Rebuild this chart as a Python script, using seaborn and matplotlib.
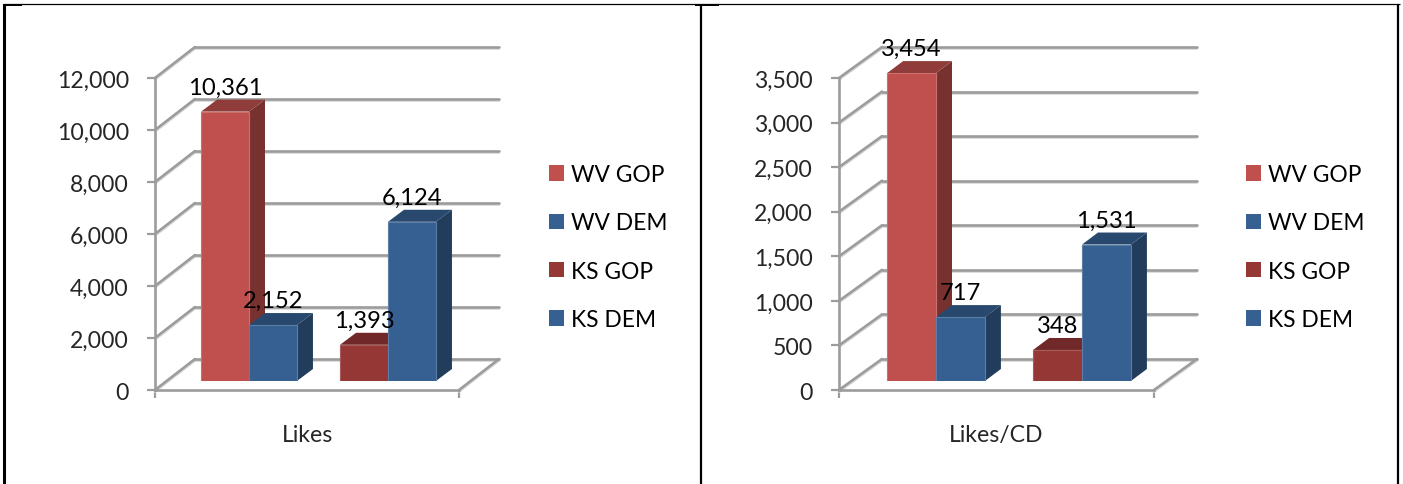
import numpy as np
import pandas as pd
import matplotlib
matplotlib.use("Agg")
import matplotlib.pyplot as plt
from matplotlib.lines import Line2D
from matplotlib.patches import Patch, Polygon
from matplotlib.ticker import StrMethodFormatter
from matplotlib.transforms import IdentityTransform
import seaborn as sns

states = ["WV", "WV", "KS", "KS"]
parties = ["GOP", "DEM", "GOP", "DEM"]
series_names = ["WV GOP", "WV DEM", "KS GOP", "KS DEM"]
series_colours = ["#C0504D", "#376092", "#953735", "#376092"]

likes = [10361, 2152, 1393, 6124]
likes_ticks = [0, 2000, 4000, 6000, 8000, 10000, 12000]
likes_per_cd = [3454, 717, 348, 1531]
likes_per_cd_ticks = [0, 500, 1000, 1500, 2000, 2500, 3000, 3500]

W, H = 1403, 485
DPI = 100
GRID = "#9C9C9C"
SHADOW = "#DADADA"
FS = 16.6

sns.set_theme(style="white")
plt.rcParams["font.family"] = ["Lato", "DejaVu Sans"]
plt.rcParams["text.color"] = "black"

fig = plt.figure(figsize=(W / DPI, H / DPI), dpi=DPI)


def px_axes(x0, x1, y_top, y_bottom):
    return fig.add_axes([x0 / W, 1 - y_bottom / H, (x1 - x0) / W, (y_bottom - y_top) / H])


def shade(colour, f):
    return tuple(c * f for c in matplotlib.colors.to_rgb(colour))


def lighten(colour, f):
    return tuple(c + (1 - c) * f for c in matplotlib.colors.to_rgb(colour))


def grey_line(ax, xs, ys):
    # xs, ys are display pixels, y going up
    shadow = Line2D(xs, np.array(ys) - 2, color=SHADOW, lw=1.3, transform=IdentityTransform(), clip_on=False, zorder=1)
    line = Line2D(xs, ys, color=GRID, lw=1.9, transform=IdentityTransform(), clip_on=False, zorder=2,
                  solid_capstyle="round")
    ax.add_line(shadow)
    ax.add_line(line)


def panel(values, ticks, title, x0, x1, y_top, y_bottom, centre, step, bar_w, depth, legend_x):
    # wall with the real y axis
    ax = px_axes(x0, x1, y_top, y_bottom)
    ax.set_ylim(ticks[0], ticks[-1])
    ax.set_xlim(0, 1)
    ax.patch.set_visible(False)
    sns.despine(ax=ax, top=True, right=True)
    for side in ["left", "bottom"]:
        ax.spines[side].set_color(GRID)
        ax.spines[side].set_linewidth(1.9)
    ax.set_yticks(ticks)
    ax.yaxis.set_major_formatter(StrMethodFormatter("{x:,.0f}"))
    ax.set_xticks([0, 1])
    ax.set_xticklabels(["", ""])
    ax.tick_params(axis="both", left=True, bottom=True, length=5.8, width=1.6, color=GRID)
    ax.tick_params(axis="y", labelsize=FS, pad=13)
    ax.set_xlabel(title, fontsize=FS, labelpad=15)

    wall_dx, wall_dy = depth
    for t in ticks:
        px, py = ax.transData.transform((0, t))
        grey_line(ax, [px, px + wall_dx], [py, py + wall_dy])
        grey_line(ax, [px + wall_dx, x1 + wall_dx], [py + wall_dy, py + wall_dy])
    # floor, right hand edge
    px, py = ax.transData.transform((1, ticks[0]))
    grey_line(ax, [px, px + wall_dx], [py, py + wall_dy])

    # bars stand a little in front of the back wall
    ax_b = px_axes(x0, x1, y_top - 9, y_bottom - 9)
    df = pd.DataFrame({"state": states, "party": parties, "value": values})
    sns.barplot(data=df, x="state", y="value", hue="party", hue_order=["GOP", "DEM"], order=["WV", "KS"],
                width=bar_w, gap=0, legend=False, ax=ax_b, saturation=1, errorbar=None)
    ax_b.set_xlim((x0 - centre) / step, (x1 - centre) / step)
    ax_b.set_ylim(ticks[0], ticks[-1])
    ax_b.axis("off")

    bars = sorted(ax_b.patches, key=lambda p: p.get_x())
    dx, dy = 16, 12
    for bar, colour, v in zip(bars, series_colours, values):
        bar.set_facecolor(colour)
        bar.set_edgecolor(lighten(colour, 0.18))
        bar.set_linewidth(0.8)
        bar.set_zorder(5)
        (xa, ya) = ax_b.transData.transform((bar.get_x(), 0))
        (xb, yb) = ax_b.transData.transform((bar.get_x() + bar.get_width(), v))
        side = Polygon([(xb, ya), (xb + dx, ya + dy), (xb + dx, yb + dy), (xb, yb)], closed=True,
                       facecolor=shade(colour, 0.62), edgecolor="none", transform=IdentityTransform(),
                       clip_on=False, zorder=3)
        top = Polygon([(xa, yb), (xb, yb), (xb + dx, yb + dy), (xa + dx, yb + dy)], closed=True,
                      facecolor=shade(colour, 0.75), edgecolor="none", transform=IdentityTransform(),
                      clip_on=False, zorder=3)
        ax_b.add_patch(side)
        ax_b.add_patch(top)
        ax_b.annotate(f"{v:,.0f}", xy=(bar.get_x() + bar.get_width() / 2, v), xytext=(0, 18),
                      textcoords="offset pixels", ha="center", va="baseline", fontsize=FS * 1.03,
                      annotation_clip=False, zorder=8)

    handles = [Patch(facecolor=c, edgecolor="none") for c in series_colours]
    fs_leg = FS * 0.985
    px_size = fs_leg * DPI / 72
    fig.legend(handles, series_names, loc="center left", bbox_to_anchor=(legend_x / W, 1 - 248 / H),
               frameon=False, fontsize=fs_leg, borderpad=0, borderaxespad=0,
               handlelength=15 / px_size, handleheight=15 / px_size,
               handletextpad=7 / px_size, labelspacing=1.2)


panel(likes, likes_ticks, "Likes", 155, 459, 79, 391, 249, 139, 0.69, (40, 31), 549)
panel(likes_per_cd, likes_per_cd_ticks, "Likes/CD", 839, 1154, 79, 391, 936, 146, 0.67, (43, 31), 1246)

# table borders round the two charts
for xs, ys, lw in [([4, 4], [5, 485], 2.2), ([701, 701], [5, 485], 1.6), ([1398, 1398], [5, 485], 1.6),
                   ([3, 1400], [5, 5], 0.9), ([3, 22], [6, 6], 1.4), ([695, 719], [6, 6], 1.4)]:
    fig.add_artist(Line2D(np.array(xs) / W, 1 - np.array(ys) / H, color="black", lw=lw,
                          solid_capstyle="butt"))

fig.savefig("out.png", dpi=DPI)
